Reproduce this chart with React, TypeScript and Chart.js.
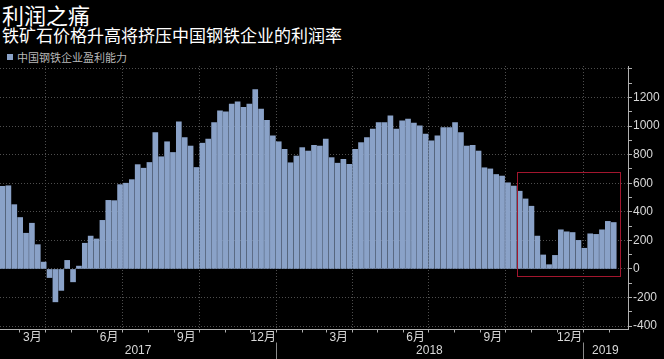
import React, { useEffect, useRef } from 'react';
import { Chart, registerables } from 'chart.js';

Chart.register(...registerables);

const TITLE = '利润之痛';
const SUBTITLE = '铁矿石价格升高将挤压中国钢铁企业的利润率';
const SERIES_NAME = '中国钢铁企业盈利能力';

// Weekly readings; first week dated 2017-02-09, then one per 7 days
const FIRST_WEEK: [number, number, number] = [2017, 2, 9];
const WEEK_STEP_DAYS = 7;
const PROFIT = [
  578, 582, 450, 360, 250, 320, 170, 48, -60, -230,
  -150, 60, -90, 20, 180, 230, 210, 340, 480, 478,
  590, 600, 625, 730, 705, 745, 955, 785, 890, 815,
  1030, 920, 860, 710, 880, 908, 1025, 1107, 1100, 1154,
  1170, 1130, 1154, 1255, 1119, 1040, 931, 890, 837, 743,
  790, 849, 825, 865, 860, 908, 779, 740, 767, 732,
  837, 884, 919, 978, 1025, 1025, 1072, 978, 1036, 1048,
  1020, 1001, 943, 896, 931, 990, 990, 1025, 955, 860,
  865, 825, 708, 700, 661, 650, 603, 580, 544, 490,
  439, 230, 98, 30, 95, 274, 260, 255, 200, 145,
  246, 242, 274, 333, 325,
];

const X_START: [number, number, number] = [2017, 2, 6];
const X_END: [number, number, number] = [2019, 2, 24];
const Y_MIN = -420;
const Y_MAX = 1420;
const Y_STEP = 100;
const Y_LABEL_STEP = 200;
const Y_LABEL_MAX = 1200;

const MONTH_LABELS = ['3月', '6月', '9月', '12月', '3月', '6月', '9月', '12月'];
const LABEL_MONTHS: [number, number][] = [
  [2017, 3], [2017, 6], [2017, 9], [2017, 12],
  [2018, 3], [2018, 6], [2018, 9], [2018, 12],
];
const QUARTER_LINES: [number, number][] = [
  [2017, 4], [2017, 7], [2017, 10], [2018, 1],
  [2018, 4], [2018, 7], [2018, 10], [2019, 1],
];
const YEAR_LABELS = [2017, 2018, 2019];

const HIGHLIGHT_FROM: [number, number, number] = [2018, 10, 15];
const HIGHLIGHT_TO: [number, number, number] = [2019, 2, 15];
const HIGHLIGHT_LOW = -50;
const HIGHLIGHT_HIGH = 680;

const BAR_COLOR = '#8aa2c8';
const GRID_COLOR = '#4e4e4e';
const AXIS_COLOR = '#b0b0b0';
const TEXT_COLOR = '#d8d8d8';

const EPOCH = Date.UTC(2017, 0, 1);
const dayOf = (y: number, m: number, d: number) => (Date.UTC(y, m - 1, d) - EPOCH) / 86400000;

const customPlugin = {
  id: 'bbgAxis',
  beforeDatasetsDraw(chart: any) {
    const { ctx, chartArea, scales } = chart;
    const x = scales.x;
    ctx.save();
    ctx.strokeStyle = GRID_COLOR;
    ctx.lineWidth = 1;
    ctx.setLineDash([1, 2]);
    for (const [y, m] of QUARTER_LINES) {
      const px = Math.round(x.getPixelForValue(dayOf(y, m, 1))) + 0.5;
      ctx.beginPath();
      ctx.moveTo(px, chartArea.top);
      ctx.lineTo(px, chartArea.bottom);
      ctx.stroke();
    }
    ctx.restore();
  },
  afterDatasetsDraw(chart: any) {
    const { ctx, scales } = chart;
    const x = scales.x;
    const y = scales.y;
    const l = x.getPixelForValue(dayOf(...HIGHLIGHT_FROM));
    const r = x.getPixelForValue(dayOf(...HIGHLIGHT_TO));
    const t = y.getPixelForValue(HIGHLIGHT_HIGH);
    const b = y.getPixelForValue(HIGHLIGHT_LOW);
    ctx.save();
    ctx.strokeStyle = '#a3162e';
    ctx.lineWidth = 1;
    ctx.strokeRect(Math.round(l) + 0.5, Math.round(t) + 0.5, Math.round(r - l), Math.round(b - t));
    ctx.restore();
  },
  afterDraw(chart: any) {
    const { ctx, chartArea, scales } = chart;
    const x = scales.x;
    const bottom = Math.round(chartArea.bottom) + 0.5;
    ctx.save();
    ctx.strokeStyle = AXIS_COLOR;
    ctx.lineWidth = 1;
    ctx.beginPath();
    ctx.moveTo(chartArea.left, bottom);
    ctx.lineTo(chartArea.right, bottom);
    ctx.stroke();
    const startDay = dayOf(...X_START);
    const endDay = dayOf(...X_END);
    for (let yy = 2017; yy <= 2019; yy++) {
      for (let mm = 1; mm <= 12; mm++) {
        const dd = dayOf(yy, mm, 1);
        if (dd < startDay || dd > endDay) continue;
        const px = Math.round(x.getPixelForValue(dd)) + 0.5;
        ctx.beginPath();
        ctx.moveTo(px, bottom);
        ctx.lineTo(px, bottom + 3);
        ctx.stroke();
      }
    }
    ctx.fillStyle = TEXT_COLOR;
    ctx.font = '12px "Liberation Sans", "Noto Sans CJK SC", sans-serif';
    ctx.textAlign = 'center';
    ctx.textBaseline = 'middle';
    LABEL_MONTHS.forEach(([yy, mm], i) => {
      const a = dayOf(yy, mm, 1);
      const e = dayOf(mm === 12 ? yy + 1 : yy, mm === 12 ? 1 : mm + 1, 1);
      const px = x.getPixelForValue((a + e) / 2);
      ctx.fillText(MONTH_LABELS[i], px, bottom + 8.5);
    });
    YEAR_LABELS.forEach((yy) => {
      const a = Math.max(dayOf(yy, 1, 1), startDay);
      const e = Math.min(dayOf(yy + 1, 1, 1), endDay);
      const px = (x.getPixelForValue(a) + x.getPixelForValue(e)) / 2;
      ctx.fillText(String(yy), px, bottom + 21.5);
      if (dayOf(yy, 1, 1) > startDay) {
        const sx = Math.round(x.getPixelForValue(dayOf(yy, 1, 1))) + 0.5;
        ctx.strokeStyle = '#8a8a8a';
        ctx.beginPath();
        ctx.moveTo(sx, bottom + 13);
        ctx.lineTo(sx, bottom + 30);
        ctx.stroke();
      }
    });
    ctx.restore();
  },
};

export default function App() {
  const ref = useRef<HTMLCanvasElement>(null);

  useEffect(() => {
    if (!ref.current) return;
    const first = dayOf(...FIRST_WEEK);
    const data = PROFIT.map((v, i) => ({ x: first + WEEK_STEP_DAYS * i, y: v }));
    const chart = new Chart(ref.current, {
      type: 'bar',
      data: {
        datasets: [
          {
            label: SERIES_NAME,
            data,
            backgroundColor: BAR_COLOR,
            borderWidth: 0,
            barThickness: 5,
          } as any,
        ],
      },
      options: {
        animation: false,
        responsive: false,
        devicePixelRatio: 1,
        layout: { padding: { top: 66, bottom: 30, left: 0, right: 0 } },
        plugins: { legend: { display: false }, tooltip: { enabled: false }, title: { display: false } },
        scales: {
          x: {
            type: 'linear',
            display: false,
            offset: false,
            min: dayOf(...X_START),
            max: dayOf(...X_END),
          },
          y: {
            position: 'right',
            min: Y_MIN,
            max: Y_MAX,
            afterFit: (s: any) => {
              s.width = 36;
            },
            ticks: {
              stepSize: Y_STEP,
              includeBounds: false,
              autoSkip: false,
              padding: 1,
              color: TEXT_COLOR,
              font: { family: '"Liberation Sans", sans-serif', size: 12 },
              callback: (v: any) => (Number(v) % Y_LABEL_STEP === 0 && Number(v) <= Y_LABEL_MAX ? String(v) : ''),
            },
            grid: {
              color: (c: any) => (c.tick && c.tick.value % Y_LABEL_STEP === 0 ? GRID_COLOR : 'rgba(0,0,0,0)'),
              tickColor: AXIS_COLOR,
              tickLength: 4,
              lineWidth: 1,
            },
            border: { display: true, color: AXIS_COLOR, width: 1, dash: [1, 2] },
          },
        },
      },
      plugins: [customPlugin],
    });
    return () => chart.destroy();
  }, []);

  return (
    <div style={{ position: 'fixed', left: 0, top: 0, width: 664, height: 359, background: '#000', overflow: 'hidden' }}>
      <div
        style={{
          position: 'absolute', left: 2, top: 0, color: '#fff', fontSize: 22, lineHeight: '28px',
          fontFamily: '"Noto Sans CJK SC", sans-serif', whiteSpace: 'nowrap',
        }}
      >
        {TITLE}
      </div>
      <div
        style={{
          position: 'absolute', left: 2, top: 24, color: '#fff', fontSize: 17, lineHeight: '22px',
          fontFamily: '"Noto Sans CJK SC", sans-serif', whiteSpace: 'nowrap',
        }}
      >
        {SUBTITLE}
      </div>
      <div
        style={{
          position: 'absolute', left: 7, top: 49, color: '#b8b8b8', fontSize: 11, lineHeight: '16px',
          fontFamily: '"Noto Sans CJK SC", sans-serif', whiteSpace: 'nowrap', display: 'flex', alignItems: 'center',
        }}
      >
        <span style={{ display: 'inline-block', width: 6, height: 6, background: BAR_COLOR, marginRight: 4 }} />
        {SERIES_NAME}
      </div>
      <canvas ref={ref} width={664} height={359} style={{ position: 'absolute', left: 0, top: 0, width: 664, height: 359 }} />
    </div>
  );
}
